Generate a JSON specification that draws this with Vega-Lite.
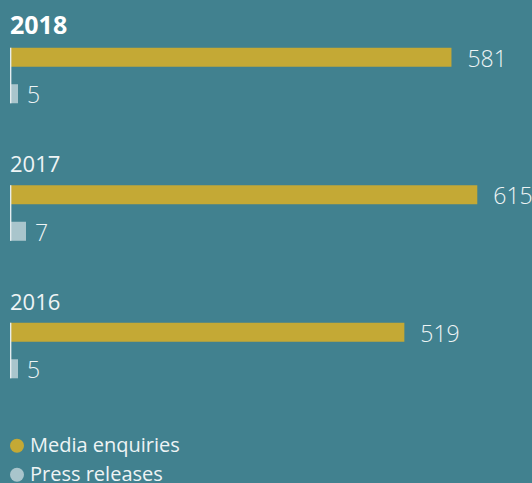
{
  "$schema": "https://vega.github.io/schema/vega-lite/v6.json",
  "width": 522,
  "height": 330.6,
  "autosize": {"type": "none"},
  "padding": {"left": 10, "top": 47.7, "right": 0, "bottom": 104.7},
  "background": "#41818F",
  "config": {"view": {"stroke": null}, "font": "Open Sans"},
  "datasets": {
    "bars": [
      {"year": "2018", "type": "Media enquiries", "value": 581},
      {"year": "2018", "type": "Press releases", "value": 5},
      {"year": "2017", "type": "Media enquiries", "value": 615},
      {"year": "2017", "type": "Press releases", "value": 7},
      {"year": "2016", "type": "Media enquiries", "value": 519},
      {"year": "2016", "type": "Press releases", "value": 5}
    ],
    "years": [{"year": "2018"}, {"year": "2017"}, {"year": "2016"}]
  },
  "encoding": {
    "y": {
      "field": "year",
      "type": "ordinal",
      "scale": {"domain": ["2018", "2017", "2016"], "paddingInner": 0.596, "paddingOuter": 0},
      "axis": null
    }
  },
  "layer": [
    {
      "layer": [
        {
          "data": {"name": "bars"},
          "transform": [{"filter": "datum.type === 'Press releases'"}],
          "mark": {"type": "bar"},
          "encoding": {
            "x": {"field": "value", "type": "quantitative", "scale": {"domain": [3, 133.5], "zero": false, "nice": false}, "axis": null},
            "x2": {"datum": 3},
            "yOffset": {"field": "type", "type": "nominal", "scale": {"domain": ["Media enquiries", "Press releases"], "paddingInner": 0.479, "paddingOuter": 0}},
            "color": {
              "field": "type",
              "type": "nominal",
              "scale": {"domain": ["Media enquiries", "Press releases"], "range": ["#C4A935", "#A9C5CC"]},
              "legend": {
                "orient": "none", "legendX": -3, "legendY": 388, "direction": "vertical", "title": null,
                "symbolType": "circle", "symbolSize": 196, "symbolStrokeWidth": 0, "symbolOpacity": 1,
                "labelFontSize": 20, "labelColor": "#EEF4F5", "labelOffset": 3, "rowPadding": 9, "padding": 0,
                "labelFont": "Open Sans"
              }
            }
          }
        },
        {
          "data": {"name": "bars"},
          "transform": [{"filter": "datum.type === 'Press releases'"}],
          "mark": {"type": "text", "align": "left", "baseline": "alphabetic", "dx": 9, "dy": 9.5, "fontSize": 23, "fontWeight": 300, "color": "#EEF4F5"},
          "encoding": {
            "x": {"field": "value", "type": "quantitative", "scale": {"domain": [3, 133.5], "zero": false, "nice": false}, "axis": null},
            "yOffset": {"field": "type", "type": "nominal", "scale": {"domain": ["Media enquiries", "Press releases"], "paddingInner": 0.479, "paddingOuter": 0}},
            "text": {"field": "value", "type": "quantitative"}
          }
        }
      ]
    },
    {
      "layer": [
        {
          "data": {"name": "bars"},
          "transform": [{"filter": "datum.type === 'Media enquiries'"}],
          "mark": {"type": "bar"},
          "encoding": {
            "x": {"field": "value", "type": "quantitative", "scale": {"domain": [0, 687], "nice": false}, "axis": null},
            "yOffset": {"field": "type", "type": "nominal", "scale": {"domain": ["Media enquiries", "Press releases"], "paddingInner": 0.479, "paddingOuter": 0}},
            "color": {"field": "type", "type": "nominal", "scale": {"domain": ["Media enquiries", "Press releases"], "range": ["#C4A935", "#A9C5CC"]}}
          }
        },
        {
          "data": {"name": "bars"},
          "transform": [{"filter": "datum.type === 'Media enquiries'"}],
          "mark": {"type": "text", "align": "left", "baseline": "alphabetic", "dx": 16, "dy": 9.5, "fontSize": 23, "fontWeight": 300, "color": "#EEF4F5"},
          "encoding": {
            "x": {"field": "value", "type": "quantitative", "scale": {"domain": [0, 687], "nice": false}, "axis": null},
            "yOffset": {"field": "type", "type": "nominal", "scale": {"domain": ["Media enquiries", "Press releases"], "paddingInner": 0.479, "paddingOuter": 0}},
            "text": {"field": "value", "type": "quantitative"}
          }
        },
        {
          "data": {"name": "years"},
          "mark": {"type": "bar", "color": "#E4ECEE"},
          "encoding": {
            "x": {"datum": 0, "type": "quantitative", "scale": {"domain": [0, 687], "nice": false}, "axis": null},
            "x2": {"datum": 1.8}
          }
        },
        {
          "data": {"name": "years"},
          "transform": [{"filter": "datum.year === '2018'"}],
          "mark": {"type": "text", "align": "left", "baseline": "alphabetic", "dy": -14, "fontSize": 25, "fontWeight": "bold", "color": "#FFFFFF"},
          "encoding": {
            "x": {"datum": 0, "type": "quantitative", "scale": {"domain": [0, 687], "nice": false}, "axis": null},
            "y": {"field": "year", "type": "ordinal", "bandPosition": 0},
            "text": {"field": "year"}
          }
        },
        {
          "data": {"name": "years"},
          "transform": [{"filter": "datum.year !== '2018'"}],
          "mark": {"type": "text", "align": "left", "baseline": "alphabetic", "dy": -13, "fontSize": 22, "color": "#EEF4F5"},
          "encoding": {
            "x": {"datum": 0, "type": "quantitative", "scale": {"domain": [0, 687], "nice": false}, "axis": null},
            "y": {"field": "year", "type": "ordinal", "bandPosition": 0},
            "text": {"field": "year"}
          }
        }
      ]
    }
  ],
  "resolve": {"scale": {"x": "independent"}}
}
